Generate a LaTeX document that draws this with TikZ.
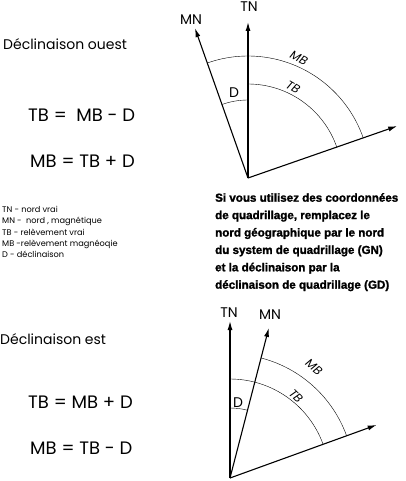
\documentclass[tikz,border=0pt]{standalone}
\usepackage{fontspec}
\setmainfont{Poppins}
\newfontfamily\notefont{Liberation Sans}[BoldFont={* Bold}, BoldFeatures={FakeBold=1.6}]
\usepackage{tikz}
\usetikzlibrary{positioning,arrows.meta,calc}

\begin{document}
\begin{tikzpicture}[x=1pt,y=1pt,
    dirarrow/.style={-{Latex[length=9pt,width=5pt]}, line width=1.1pt},
    anglearc/.style={line width=0.4pt},
    dirlabel/.style={font=\fontsize{14}{14}\selectfont, inner sep=0pt},
    arclabel/.style={font=\fontsize{12}{12}\selectfont\itshape, inner sep=0pt},
    titletext/.style={font=\fontsize{14}{14}\selectfont, inner sep=0pt, anchor=west},
    formula/.style={font=\fontsize{18}{18}\selectfont, inner sep=0pt, anchor=west},
    legendtext/.style={font=\fontsize{8.2}{11.3}\selectfont, inner sep=0pt, anchor=north west, align=left},
    notetext/.style={font=\notefont\bfseries\fontsize{11.6}{17.4}\selectfont, inner sep=0pt, anchor=north west, align=left}]
    \useasboundingbox (0,0) rectangle (405,-481);

    % declinaison ouest
    \node[titletext] (ouest) at (3,-44) {Déclinaison ouest};
    \node[formula] (ouestA) at (28,-115) {TB =\ \ MB - D};
    \node[formula] (ouestB) at (30,-161) {MB = TB + D};

    \coordinate (O1) at (248,-178);
    \draw[dirarrow] (O1) -- ++(90:156) coordinate (tn1);
    \draw[dirarrow] (O1) -- ++(109.5:159) coordinate (mn1);
    \draw[dirarrow] (O1) -- ++(19.2:158) coordinate (e1);
    \node[dirlabel] (tn1lab) at (249,-7) {TN};
    \node[dirlabel] (mn1lab) at (191,-20) {MN};

    \draw[anglearc] (O1) ++(109.5:122) arc[start angle=109.5, end angle=19.2, radius=122];
    \draw[anglearc] (O1) ++(90:94) arc[start angle=90, end angle=19.2, radius=94];
    \draw[anglearc] (O1) ++(90:78) arc[start angle=90, end angle=109.5, radius=78];
    \node[arclabel, rotate=-28] (mb1) at (299,-58) {MB};
    \node[arclabel, rotate=-30] (tb1) at (293,-87) {TB};
    \node[dirlabel] (d1) at (234,-93) {D};

    % legende
    \node[legendtext] (legende) at (2,-206) {TN - nord vrai\\
        MN -\ \ nord , magnétique\\
        TB - relèvement vrai\\
        MB -relèvement magnéoqie\\
        D - déclinaison};

    \node[notetext] (note) at (215,-193) {Si vous utilisez des coordonnées\\
        de quadrillage, remplacez le\\
        nord géographique par le nord\\
        du system de quadrillage (GN)\\
        et la déclinaison par la\\
        déclinaison de quadrillage (GD)};

    % declinaison est
    \node[titletext] (est) at (0,-339) {Déclinaison est};
    \node[formula] (estA) at (28,-402) {TB = MB + D};
    \node[formula] (estB) at (30,-448) {MB = TB - D};

    \coordinate (O2) at (230,-478);
    \draw[dirarrow] (O2) -- ++(90:157) coordinate (tn2);
    \draw[dirarrow] (O2) -- ++(75.5:155) coordinate (mn2);
    \draw[dirarrow] (O2) -- ++(19.9:156) coordinate (e2);
    \node[dirlabel] (tn2lab) at (229,-313) {TN};
    \node[dirlabel] (mn2lab) at (270,-315) {MN};

    \draw[anglearc] (O2) ++(75.5:124) arc[start angle=75.5, end angle=19.9, radius=124];
    \draw[anglearc] (O2) ++(90:99) arc[start angle=90, end angle=19.9, radius=99];
    \draw[anglearc] (O2) ++(90:70) arc[start angle=90, end angle=75.5, radius=70];
    \node[arclabel, rotate=-40] (mb2) at (314,-367) {MB};
    \node[arclabel, rotate=-45] (tb2) at (296,-396) {TB};
    \node[dirlabel] (d2) at (238,-403) {D};
\end{tikzpicture}
\end{document}
